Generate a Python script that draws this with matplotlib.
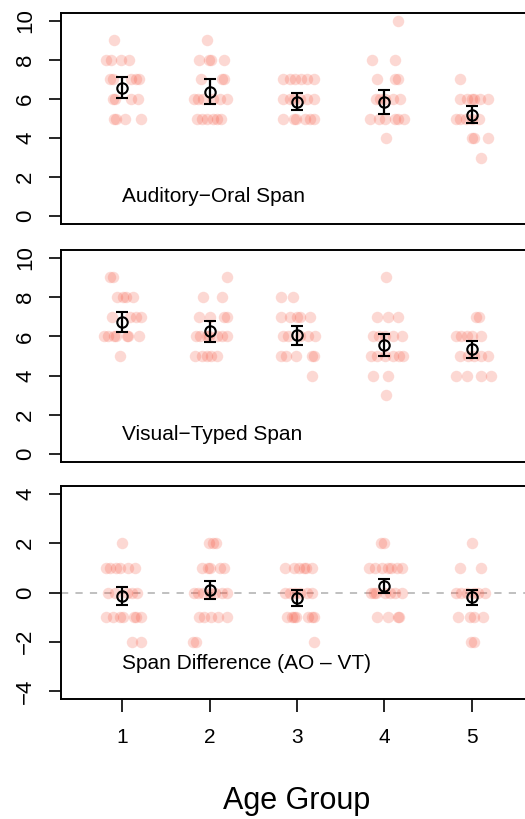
import matplotlib
matplotlib.use('Agg')
import matplotlib.pyplot as plt
import numpy as np

plt.rcParams['font.family'] = ['Liberation Sans', 'DejaVu Sans']

groups = [1, 2, 3, 4, 5]

# Auditory-Oral span: group, score, horizontal jitter
ao_g = [1]*18 + [2]*20 + [3]*18 + [4]*18 + [5]*16
ao_v = [9, 8, 8, 8, 8, 7, 7, 7, 7, 7, 6, 6, 6, 6, 5, 5, 5, 5,
        9, 8, 8, 8, 8, 7, 7, 7, 6, 6, 6, 6, 6, 6, 5, 5, 5, 5, 5, 5,
        7, 7, 7, 7, 7, 7, 6, 6, 6, 6, 6, 6, 5, 5, 5, 5, 5, 5,
        10, 8, 8, 7, 7, 7, 6, 6, 6, 6, 6, 5, 5, 5, 5, 5, 5, 4,
        7, 6, 6, 6, 6, 6, 6, 5, 5, 5, 5, 5, 4, 4, 4, 3]
ao_j = [-0.09, -0.18, -0.13, -0.01, 0.08, -0.14, -0.11, 0.10, 0.16, 0.19, -0.11, -0.08, 0.10, 0.18, -0.09, -0.07, 0.03, 0.21,
        -0.03, -0.12, -0.01, 0.02, 0.16, -0.10, 0.14, 0.16, -0.18, -0.13, -0.08, 0.04, 0.12, 0.20, -0.14, -0.09, -0.03, 0.04, 0.08, 0.13,
        -0.16, -0.08, -0.02, 0.05, 0.11, 0.19, -0.16, -0.08, -0.04, 0.03, 0.11, 0.19, -0.16, -0.04, -0.01, 0.09, 0.15, 0.19,
        0.15, -0.14, 0.12, -0.08, 0.12, 0.16, -0.10, -0.05, 0.01, 0.10, 0.18, -0.17, -0.06, 0.01, 0.12, 0.16, 0.22, 0.02,
        -0.13, -0.13, -0.06, 0.0, 0.02, 0.09, 0.19, -0.18, -0.14, -0.07, 0.0, 0.08, 0.0, 0.02, 0.19, 0.11]

# Visual-Typed span
vt_g = [1]*18 + [2]*19 + [3]*18 + [4]*18 + [5]*16
vt_v = [9, 9, 8, 8, 8, 8, 7, 7, 7, 7, 6, 6, 6, 6, 6, 6, 6, 5,
        9, 8, 8, 7, 7, 7, 7, 6, 6, 6, 6, 6, 6, 6, 5, 5, 5, 5, 5,
        8, 8, 7, 7, 7, 7, 7, 6, 6, 6, 6, 6, 5, 5, 5, 5, 5, 4,
        9, 7, 7, 7, 6, 6, 6, 6, 6, 5, 5, 5, 5, 5, 5, 4, 4, 3,
        7, 7, 6, 6, 6, 6, 6, 5, 5, 5, 5, 5, 4, 4, 4, 4]
vt_j = [-0.14, -0.10, -0.06, 0.01, 0.04, 0.12, -0.12, 0.09, 0.16, 0.21, -0.21, -0.16, -0.09, -0.07, 0.05, 0.07, 0.19, -0.02,
        0.20, -0.07, 0.14, -0.12, 0.01, 0.16, 0.20, -0.15, -0.11, -0.03, -0.01, 0.08, 0.14, 0.20, -0.17, -0.09, -0.03, 0.02, 0.08,
        -0.18, -0.05, -0.18, -0.08, 0.0, 0.03, 0.15, -0.16, -0.10, 0.03, 0.13, 0.21, -0.18, -0.13, -0.01, 0.17, 0.19, 0.17,
        0.02, -0.08, 0.04, 0.16, -0.13, -0.06, 0.01, 0.10, 0.20, -0.15, -0.09, 0.01, 0.10, 0.17, 0.21, -0.13, 0.04, 0.02,
        0.05, 0.08, -0.18, -0.12, -0.06, 0.0, 0.11, -0.14, -0.04, 0.02, 0.11, 0.19, -0.18, -0.05, 0.11, 0.22]

# Span difference (AO - VT)
df_g = [1]*21 + [2]*22 + [3]*20 + [4]*20 + [5]*15
df_v = [2, 1, 1, 1, 1, 1, 1, 0, 0, 0, 0, 0, -1, -1, -1, -1, -1, -1, -1, -2, -2,
        2, 2, 2, 1, 1, 1, 1, 1, 0, 0, 0, 0, 0, 0, 0, -1, -1, -1, -1, -1, -2, -2,
        1, 1, 1, 1, 1, 1, 0, 0, 0, 0, 0, 0, -1, -1, -1, -1, -1, -1, -1, -2,
        2, 2, 1, 1, 1, 1, 1, 1, 1, 0, 0, 0, 0, 0, 0, 0, -1, -1, -1, -1,
        2, 1, 1, 0, 0, 0, 0, 0, 0, -1, -1, -1, -1, -2, -2]
df_j = [0.0, -0.19, -0.14, -0.07, -0.02, 0.07, 0.15, -0.16, -0.08, 0.05, 0.11, 0.17, -0.18, -0.11, -0.02, 0.01, 0.14, 0.16, 0.21, 0.11, 0.21,
        -0.01, 0.04, 0.07, -0.09, -0.02, 0.0, 0.12, 0.16, -0.18, -0.13, -0.07, 0.01, 0.06, 0.14, 0.20, -0.12, -0.06, 0.02, 0.10, 0.20, -0.19, -0.15,
        -0.14, -0.04, 0.02, 0.08, 0.10, 0.17, -0.14, -0.08, -0.02, 0.03, 0.11, 0.17, -0.12, -0.06, -0.03, -0.01, 0.13, 0.17, 0.19, 0.19,
        -0.04, -0.01, -0.18, -0.11, -0.03, 0.04, 0.08, 0.14, 0.20, -0.15, -0.12, -0.10, 0.01, 0.06, 0.12, 0.20, -0.09, 0.04, 0.15, 0.17,
        0.0, -0.14, 0.11, -0.18, -0.12, -0.06, 0.02, 0.07, 0.15, -0.16, -0.02, 0.02, 0.13, -0.01, 0.03]

# group means and standard errors
ao_mean = [6.58, 6.37, 5.85, 5.86, 5.19]
ao_se = [0.53, 0.65, 0.44, 0.62, 0.43]
vt_mean = [6.72, 6.25, 6.05, 5.55, 5.34]
vt_se = [0.50, 0.54, 0.49, 0.55, 0.43]
df_mean = [-0.14, 0.10, -0.22, 0.28, -0.20]
df_se = [0.36, 0.36, 0.31, 0.28, 0.30]

panels = [
    (ao_g, ao_v, ao_j, ao_mean, ao_se, 'Auditory\u2212Oral Span', (0, 10), [0, 2, 4, 6, 8, 10], 1),
    (vt_g, vt_v, vt_j, vt_mean, vt_se, 'Visual\u2212Typed Span', (0, 10), [0, 2, 4, 6, 8, 10], 1),
    (df_g, df_v, df_j, df_mean, df_se, 'Span Difference (AO \u2013 VT)', (-4, 4), [-4, -2, 0, 2, 4], -2.9),
]

fig = plt.figure(figsize=(5.25, 8.19), dpi=100)
W, H = 525.0, 819.0
boxes = [(13, 224), (250, 462), (486, 699)]
left, right = 61, 533

for i, (g, v, j, m, se, label, lim, ticks, ty) in enumerate(panels):
    top, bot = boxes[i]
    ax = fig.add_axes([left / W, 1 - bot / H, (right - left) / W, (bot - top) / H])
    x = np.array(g) + np.array(j)
    ax.scatter(x, v, s=68, color='#f5503a', alpha=0.22, linewidths=0, zorder=2)
    if i == 2:
        ax.axhline(0, color='#bbbbbb', lw=1.3, ls=(0, (4, 4)), zorder=1)
    ax.errorbar(groups, m, yerr=se, fmt='o', mfc='none', mec='black', mew=1.5,
                ms=7.5, ecolor='black', elinewidth=1.6, capsize=4.5, capthick=1.6, zorder=3)
    ax.text(1, ty, label, fontsize=15, ha='left', va='center')
    span = lim[1] - lim[0]
    ax.set_ylim(lim[0] - 0.04 * span, lim[1] + 0.04 * span)
    ax.set_xlim(0.3, 5.7)
    ax.set_yticks(ticks)
    ax.set_yticklabels([str(t).replace('-', '\u2212') for t in ticks], rotation=90, va='center')
    ax.tick_params(axis='y', length=9, width=1.2, labelsize=16, pad=9)
    for s in ax.spines.values():
        s.set_linewidth(1.4)
    if i < 2:
        ax.set_xticks([])
    else:
        ax.set_xticks(groups)
        ax.tick_params(axis='x', length=9, width=1.2, labelsize=15, pad=12)
        ax.set_xlabel('Age Group', fontsize=22, labelpad=28)

fig.savefig('out.png', dpi=100)
